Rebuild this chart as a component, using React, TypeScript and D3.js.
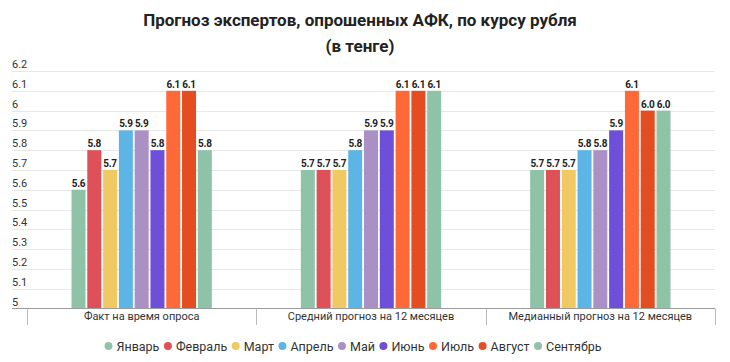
import React, { useEffect, useRef } from 'react';
import * as d3 from 'd3';

const title1 = 'Прогноз экспертов, опрошенных АФК, по курсу рубля';
const title2 = '(в тенге)';

const categories = ['Факт на время опроса', 'Средний прогноз на 12 месяцев', 'Медианный прогноз на 12 месяцев'];
const months = ['Январь', 'Февраль', 'Март', 'Апрель', 'Май', 'Июнь', 'Июль', 'Август', 'Сентябрь'];
const colors = ['#8fc3a8', '#de5158', '#f0c965', '#5db5e6', '#ab90c6', '#6d4fd9', '#ff6937', '#e44c22', '#8fc3a8'];

// values per category, one per month
const fact = [5.6, 5.8, 5.7, 5.9, 5.9, 5.8, 6.1, 6.1, 5.8];
const meanForecast = [5.7, 5.7, 5.7, 5.8, 5.9, 5.9, 6.1, 6.1, 6.1];
const medianForecast = [5.7, 5.7, 5.7, 5.8, 5.8, 5.9, 6.1, 6.0, 6.0];
const series = [fact, meanForecast, medianForecast];

const yTicks = [5, 5.1, 5.2, 5.3, 5.4, 5.5, 5.6, 5.7, 5.8, 5.9, 6, 6.1, 6.2];

const W = 730;
const H = 362;
const FONT = 'Roboto, "Noto Sans", sans-serif';

export default function App() {
  const svgRef = useRef<SVGSVGElement>(null);

  useEffect(() => {
    const svg = d3.select(svgRef.current);
    svg.selectAll('*').remove();

    const y = d3.scaleLinear().domain([5, 6.2]).range([308.5, 71]);
    const x0 = d3.scaleBand().domain(categories).range([27, 715]);
    const x1 = d3.scaleBand().domain(months).range([0, x0.bandwidth()]).paddingOuter(2.76);

    // title
    svg.append('text')
      .attr('x', 360).attr('y', 26)
      .attr('text-anchor', 'middle')
      .attr('font-family', FONT).attr('font-size', 17).attr('font-weight', 700)
      .attr('fill', '#222')
      .text(title1);
    svg.append('text')
      .attr('x', 360).attr('y', 52)
      .attr('text-anchor', 'middle')
      .attr('font-family', FONT).attr('font-size', 17).attr('font-weight', 700)
      .attr('fill', '#222')
      .text(title2);

    // gridlines + y labels
    const grid = svg.append('g');
    yTicks.forEach((t) => {
      if (t > 5) {
        grid.append('line')
          .attr('x1', 12).attr('x2', 715)
          .attr('y1', Math.round(y(t)) + 0.5).attr('y2', Math.round(y(t)) + 0.5)
          .attr('stroke', '#e8e8e8').attr('stroke-width', 1);
      }
      grid.append('text')
        .attr('x', 12).attr('y', y(t) - 3)
        .attr('font-family', FONT).attr('font-size', 11)
        .attr('fill', '#333')
        .text(String(+t.toFixed(1)));
    });

    // bars
    const groups = svg.append('g')
      .selectAll('g')
      .data(series)
      .join('g')
      .attr('transform', (_, i) => `translate(${x0(categories[i])},0)`);

    groups.selectAll('rect')
      .data((d) => d)
      .join('rect')
      .attr('x', (_, i) => (x1(months[i]) as number) + 0.9)
      .attr('width', x1.bandwidth() - 1.8)
      .attr('y', (d) => y(d))
      .attr('height', (d) => y(5) - y(d))
      .attr('fill', (_, i) => colors[i]);

    groups.selectAll('text')
      .data((d) => d)
      .join('text')
      .attr('x', (_, i) => (x1(months[i]) as number) + x1.bandwidth() / 2)
      .attr('y', (d) => y(d) - 3)
      .attr('text-anchor', 'middle')
      .attr('font-family', FONT).attr('font-size', 10).attr('font-weight', 700)
      .attr('letter-spacing', -0.3)
      .attr('fill', '#222')
      .text((d) => d.toFixed(1));

    // category axis
    const axis = svg.append('g');
    axis.append('line')
      .attr('x1', 12).attr('x2', 715)
      .attr('y1', 308.5).attr('y2', 308.5)
      .attr('stroke', '#9a9a9a');
    const seps = [x0.range()[0], ...categories.map((c) => (x0(c) as number) + x0.bandwidth())];
    seps.forEach((s) => {
      axis.append('line')
        .attr('x1', Math.round(s) + 0.5).attr('x2', Math.round(s) + 0.5)
        .attr('y1', 308.5).attr('y2', 325)
        .attr('stroke', '#bbb');
    });
    categories.forEach((c) => {
      axis.append('text')
        .attr('x', (x0(c) as number) + x0.bandwidth() / 2).attr('y', 320)
        .attr('text-anchor', 'middle')
        .attr('font-family', FONT).attr('font-size', 11)
        .attr('fill', '#333')
        .text(c);
    });

    // legend
    const legend = svg.append('g');
    let cx = 0;
    months.forEach((m, i) => {
      const item = legend.append('g').attr('transform', `translate(${cx},0)`);
      item.append('circle').attr('cx', 4).attr('cy', 346).attr('r', 4).attr('fill', colors[i]);
      const t = item.append('text')
        .attr('x', 12).attr('y', 350.5)
        .attr('font-family', FONT).attr('font-size', 12.5)
        .attr('fill', '#333')
        .text(m);
      const w = (t.node() as SVGTextElement).getComputedTextLength();
      cx += 12 + w + 4.5;
    });
    const total = cx - 4.5;
    legend.attr('transform', `translate(${353 - total / 2},0)`);
  }, []);

  return (
    <svg
      ref={svgRef}
      width={W}
      height={H}
      style={{ position: 'absolute', left: 0, top: 0, background: '#fff' }}
    />
  );
}
